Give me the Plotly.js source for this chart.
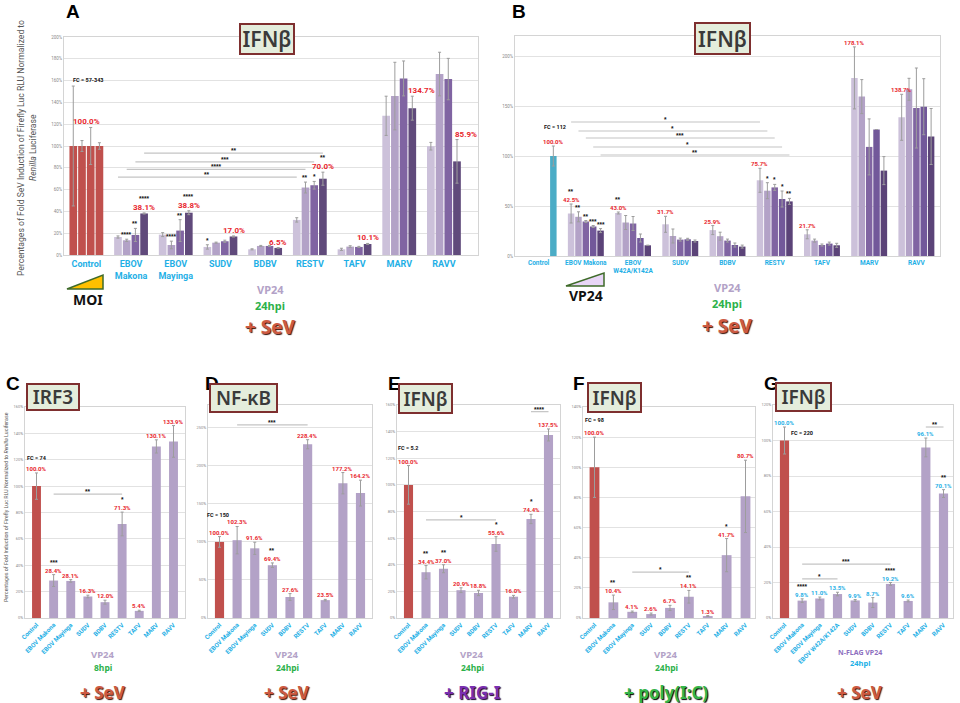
<!DOCTYPE html>
<html><head><meta charset="utf-8">
<script src="https://cdn.plot.ly/plotly-3.0.1.min.js"></script>
<style>html,body{margin:0;padding:0;background:#fff}#chart{width:960px;height:703px}</style>
</head><body><div id="chart"></div>
<script>
// ================= DATA =================
// Panel A (IFNb, MOI series, 4 doses)
const catsA = ['Control','EBOV<br>Makona','EBOV<br>Mayinga','SUDV','BDBV','RESTV','TAFV','MARV','RAVV'];
const a1 = [100,16.5,18.7,7.4,5.2,32.2,5.2,127.7,99.8];
const a2 = [100,13.5,9.2,11.3,8.3,61.9,7.7,145.8,166.0];
const a3 = [100,18.4,22.4,12.6,8.3,64.0,7.4,162.0,161.4];
const a4 = [100,38.1,38.8,17.0,6.5,70.0,10.1,134.7,85.9];
const a1err = [55,1,1.8,2,0.5,2,1,18,3.5];
const a2err = [5,1,3.5,0.5,0.5,5,0.8,31,20];
const a3err = [17,6,10,1,0.5,3.5,0.5,16,19];
const a4err = [3,0.5,1.8,0.5,0.3,6,0.5,11,20];
const starsA = [
  ['','','','*','','','','',''],
  ['','****','****','','','**','','',''],
  ['','**','**','','','*','','',''],
  ['','****','****','','','**','','','']
];
const sigA = [[1,5,3,93.5,'**'],[1,5,2,85.5,'***'],[1,5,1,78.6,'****'],[1,5,0,71.4,'**']];

// Panel B (IFNb, VP24 dose series, 5 doses)
const catsB = ['Control','EBOV Makona','EBOV<br>W42A/K142A','SUDV','BDBV','RESTV','TAFV','MARV','RAVV'];
const b1 = [null,42.5,43.0,31.7,25.9,75.7,21.7,178.1,138.7];
const b2 = [null,39.2,33.5,20.0,19.8,65.3,15.4,159.4,166.7];
const b3 = [null,34.5,32.5,16.4,15.4,68.6,11.0,109.1,148.0];
const b4 = [null,29.5,18.0,16.7,11.0,57.0,12.4,126.5,149.3];
const b5 = [100,25.4,10.7,15.0,9.4,54.6,10.7,85.4,119.5];
const b1err = [0,9.5,1,8,4.5,12,4.5,31,23];
const b2err = [0,5,7,7,4,8,1.5,17,11];
const b3err = [0,1,7,1.5,1.5,3,1,28,40];
const b4err = [0,1,4,1,2,8,1.5,0,28];
const b5err = [10,2,0,1,1.5,3,2,14,28];
const starsB = [
  ['','**','**','','','','','',''],
  ['','**','','','','*','','',''],
  ['','**','','','','*','','',''],
  ['','***','','','','*','','',''],
  ['','***','','','','**','','','']
];
const sigB = [[1,5,0,134,'*'],[1,5,1,125,'*'],[1,5,2,118,'***'],[1,5,3,109,'*'],[1,5,4,101,'**']];

// Panels C-F
const catsCF = ['Control','EBOV Makona','EBOV Mayinga','SUDV','BDBV','RESTV','TAFV','MARV','RAVV'];
const cVals = [100,28.4,28.1,16.3,12.0,71.3,5.4,130.1,133.9];
const cErr  = [10,4.5,1,1,1.5,9,0.5,5,12];
const starsC = ['','***','','','','*','','',''];
const sigC = [[1,5,94,'**']];

const dVals = [100,102.3,91.6,69.4,27.6,228.4,23.5,177.2,164.2];
const dErr  = [7,18,8,3,4.5,6,1,14,17];
const starsD = ['','','','**','','','','',''];
const sigD = [[1,5,254,'***']];

const eVals = [100,34.4,37.0,20.9,18.8,55.6,16.0,74.4,137.5];
const eErr  = [14.5,5,3,1.8,2,5.5,1,3.5,4.5];
const starsE = ['','**','**','','','*','','*',''];
const sigE = [[1,5,73.7,'*'],[7,8,155,'****']];

const fVals = [100,10.4,4.1,2.6,6.7,14.1,1.3,41.7,80.7];
const fErr  = [20,4.8,0.5,0.7,1.7,4.2,0.3,11,24];
const starsF = ['','**','','','','**','','*',''];
const sigF = [[2,5,30.4,'*']];

// Panel G
const catsG = ['Control','EBOV Makona','EBOV Mayinga','EBOV W42A/K142A','SUDV','BDBV','RESTV','TAFV','MARV','RAVV'];
const gVals = [100,9.8,11.0,13.5,9.9,8.7,19.2,9.6,96.1,70.1];
const gErr  = [7.6,1,0.8,1,0.5,2.8,0.8,0.5,5.3,2.2];
const starsG = ['','****','','','','','****','','','**'];
const sigG = [[1,6,30.4,'***'],[1,3,22,'*'],[8,9,107.6,'**']];

// ================= STYLE =================
const W=960,H=703,BARGAP=0.22;
const RED='#C0504D', LAV='#B3A2C7', TEAL='#4BACC6', CYAN='#1FB0E6', PCT='#E8262D';
const doseA=['#CCC1DA','#B3A2C7','#8064A2','#604A7B'];
const doseB=['#CCC1DA','#B3A2C7','#8064A2','#72589A','#5B4378'];
const ERR={color:'#9d9d9d',thickness:1,width:1.5};
const STARSIZE=6.5;
const px=x=>x/W, py=y=>1-y/H;

const traces=[];
const annotations=[];
const shapes=[];

function grpOff(k,n){const slot=(1-BARGAP)/n;return -(1-BARGAP)/2+slot*(k+0.5);}
function pctLabel(ax,x,y,v,size,color,xshift){
  annotations.push({xref:ax[0],yref:ax[1],x,y,text:v.toFixed(1)+'%',showarrow:false,yanchor:'bottom',yshift:0,
    xshift:xshift||0,borderpad:0,font:{family:'Roboto',size,color:color||PCT,weight:'bold'}});
}
function star(ax,x,y,s,shift){
  if(!s) return;
  annotations.push({xref:ax[0],yref:ax[1],x,y,text:s,showarrow:false,yanchor:'bottom',yshift:shift,borderpad:0,
    font:{family:'Liberation Sans',size:STARSIZE,color:'#111',weight:'bold'}});
}
function bracket(ax,x0,x1,y,s){
  shapes.push({type:'line',xref:ax[0],yref:ax[1],x0,x1,y0:y,y1:y,line:{color:'#c4c4c4',width:1.2}});
  star(ax,(x0+x1)/2,y,s,-2);
}

// Panel A
const aVals=[a1,a2,a3,a4], aErrs=[a1err,a2err,a3err,a4err];
aVals.forEach((v,k)=>traces.push({type:'bar',x:catsA,y:v,xaxis:'x',yaxis:'y',
  marker:{color:catsA.map((c,i)=>i===0?RED:doseA[k])},
  error_y:Object.assign({type:'data',array:aErrs[k]},ERR),hoverinfo:'skip'}));
const axA=['x','y'];
for(let i=1;i<catsA.length;i++) pctLabel(axA,i+grpOff(3,4),a4[i]+a4err[i],a4[i],8,PCT,i>=7?9:0);
annotations.push({xref:'x',yref:'y',x:0,y:a1[0],yshift:24,text:a1[0].toFixed(1)+'%',showarrow:false,
  font:{family:'Roboto',size:8,color:PCT,weight:'bold'}});
starsA.forEach((row,k)=>row.forEach((s,i)=>star(axA,i+grpOff(k,4),aVals[k][i]+aErrs[k][i],s,(k===3)?10:0)));
sigA.forEach(([f,t,k,y,s])=>bracket(axA,f+grpOff(k,4),t+grpOff(k,4),y,s));

// Panel B
const bVals=[b1,b2,b3,b4,b5], bErrs=[b1err,b2err,b3err,b4err,b5err];
bVals.forEach((v,k)=>traces.push({type:'bar',x:catsB,y:v,xaxis:'x2',yaxis:'y2',
  marker:{color:catsB.map((c,i)=>i===0?TEAL:doseB[k])},
  error_y:Object.assign({type:'data',array:bErrs[k]},ERR),hoverinfo:'skip'}));
const axB=['x2','y2'];
for(let i=1;i<catsB.length;i++) pctLabel(axB,i+grpOff(0,5),b1[i]+b1err[i],b1[i],6);
pctLabel(axB,0+grpOff(4,5),b5[0]+b5err[0],b5[0],6);
starsB.forEach((row,k)=>row.forEach((s,i)=>star(axB,i+grpOff(k,5),bVals[k][i]+bErrs[k][i],s,(k===0)?8:0)));
sigB.forEach(([f,t,k,y,s])=>bracket(axB,f+grpOff(k,5),t+grpOff(k,5),y,s));

// Single-series panels
function single(n,cats,vals,errs,stars,sigs,lblColor){
  const ax=['x'+n,'y'+n];
  traces.push({type:'bar',x:cats,y:vals,xaxis:ax[0],yaxis:ax[1],width:0.52,
    marker:{color:cats.map((c,i)=>i===0?RED:LAV)},
    error_y:Object.assign({type:'data',array:errs},ERR),hoverinfo:'skip'});
  vals.forEach((v,i)=>{pctLabel(ax,i,v+errs[i],v,6,lblColor);star(ax,i,v+errs[i],stars[i],8);});
  sigs.forEach(([f,t,y,s])=>bracket(ax,f,t,y,s));
}
single(3,catsCF,cVals,cErr,starsC,sigC);
single(4,catsCF,dVals,dErr,starsD,sigD);
single(5,catsCF,eVals,eErr,starsE,sigE);
single(6,catsCF,fVals,fErr,starsF,sigF);
single(7,catsG,gVals,gErr,starsG,sigG,CYAN);

// ================= AXES =================
function yax(top,bot,x0,range,dtick,anchor,fs){
  return {domain:[py(bot),py(top)],range,dtick,anchor,ticksuffix:'%',tickfont:{size:fs,color:'#8a8a8a',family:'Roboto'},
    showgrid:true,gridcolor:'#e2e2e2',gridwidth:1,zeroline:false,showline:true,linecolor:'#d4d4d4',mirror:true,ticks:'',
    ticklen:0,fixedrange:true};
}
function xax(x0,x1,anchor,angle,fs){
  return {domain:[px(x0),px(x1)],anchor,type:'category',tickangle:angle,
    tickfont:{family:'Roboto',size:fs,color:CYAN,weight:'bold'},showline:true,linecolor:'#d4d4d4',mirror:true,
    ticks:'',showgrid:false,fixedrange:true};
}
const layout={
  width:W,height:H,margin:{l:0,r:0,t:0,b:0},paper_bgcolor:'#fff',plot_bgcolor:'#fff',showlegend:false,
  barmode:'group',bargap:BARGAP,bargroupgap:0.12,
  xaxis: xax(64,478,'y',0,9),   yaxis: yax(37,255,64,[0,200],20,'x',4.5),
  xaxis2:xax(515,940,'y2',0,6.5), yaxis2:yax(36,256,515,[0,220],50,'x2',4.5),
  xaxis3:xax(25,185,'y3',-45,6.2), yaxis3:yax(407,618,25,[0,160],20,'x3',4),
  xaxis4:xax(208,372,'y4',-45,6.2), yaxis4:yax(405,618,208,[0,280],50,'x4',4),
  xaxis5:xax(397,560,'y5',-45,6.2), yaxis5:yax(405,618,397,[0,160],20,'x5',4),
  xaxis6:xax(583,755,'y6',-45,6.2), yaxis6:yax(407,618,583,[0,140],20,'x6',4),
  xaxis7:xax(773,953,'y7',-45,6.2), yaxis7:yax(405,618,773,[0,120],20,'x7',4),
  annotations, shapes
};

// ================= PAPER TEXT =================
function ptext(x,y,text,font,extra){
  annotations.push(Object.assign({xref:'paper',yref:'paper',x:px(x),y:py(y),text,showarrow:false,borderpad:0,
    xanchor:'center',yanchor:'middle',font:Object.assign({family:'Noto Sans',weight:'bold'},font)},extra||{}));
}
// panel letters
[['A',73,12],['B',519,12],['C',13,383],['D',212,383],['E',394,383],['F',579,383],['G',771,383]]
  .forEach(([t,x,y])=>ptext(x,y,t,{family:'Liberation Sans',size:19,color:'#000'}));
// title boxes
[['IFNβ',267,39,56,32,21],['IFNβ',722,38,57,33,21],['IRF3',53,397,54,28,19],['NF-κB',243,398,69,30,19],
 ['IFNβ',425,398,55,31,19],['IFNβ',614,397,55,31,19],['IFNβ',803,397,57,30,19]]
  .forEach(([t,x,y,w,h,fs])=>ptext(x,y,t,{family:'Noto Sans',size:fs,color:'#3a3a3a',weight:600},
    {bgcolor:'#E4EDDC',bordercolor:'#7E2F2F',borderwidth:2,width:w-4,height:h-4,borderpad:0}));
// y titles
ptext(21,148,'Percentages of Fold SeV Induction of Firefly Luc RLU Normalized to',{family:'Roboto',size:8.6,color:'#555',weight:'normal'},{textangle:-90});
ptext(33,148,'<i>Renilla</i> Luciferase',{family:'Roboto',size:8.6,color:'#555',weight:'normal'},{textangle:-90});
ptext(6,507,'Percentages of Fold Induction of Firefly Luc RLU Normalized to <i>Renilla</i> Luciferase',{family:'Roboto',size:5.3,color:'#555',weight:'normal'},{textangle:-90});
// FC labels
[['FC = 57-343',88,80],['FC = 112',555,127],['FC = 74',37,458],['FC = 150',218,515],['FC = 5.2',408,448],['FC = 98',594,420],['FC = 220',802,433]]
  .forEach(([t,x,y])=>ptext(x,y,t,{family:'Roboto',size:5.5,color:'#111'}));
// under-axis captions
const SEV={size:17,color:'#CD5A42',shadow:'1px 1px 1px #3a1208'};
ptext(270,289,'VP24',{size:11,color:LAV});
ptext(270,305,'24hpi',{size:11,color:'#2DB14A'});
ptext(270,327,'+ SeV',Object.assign({},SEV,{size:19}));
ptext(727,287,'VP24',{size:11,color:LAV});
ptext(727,303,'24hpi',{size:11,color:'#2DB14A'});
ptext(727,326,'+ SeV',Object.assign({},SEV,{size:19}));
ptext(88,299,'MOI',{size:14,color:'#111'});
ptext(586,295,'VP24',{size:14,color:'#111'});
[[103,'8hpi','+ SeV',SEV],[287,'24hpi','+ SeV',SEV],
 [472,'24hpi','+ RIG-I',{size:17,color:'#7A2FB0',shadow:'1px 1px 1px #1a0630'}],
 [666,'24hpi','+ poly(I:C)',{size:17,color:'#35B54A',shadow:'1px 1px 1px #000'}]]
 .forEach(([x,h,t,f])=>{ptext(x,654,'VP24',{size:9.5,color:LAV});ptext(x,667,h,{size:8.5,color:'#2DB14A'});ptext(x,692,t,f);});
ptext(860,652,'N-FLAG VP24',{size:7,color:'#8E6FC0'});
ptext(860,663,'24hpi',{size:7.5,color:CYAN});
ptext(860,692,'+ SeV',SEV);
// triangles
shapes.push({type:'path',xref:'paper',yref:'paper',
  path:`M ${px(67)} ${py(289)} L ${px(103)} ${py(289)} L ${px(103)} ${py(275)} Z`,
  fillcolor:'#FFC000',line:{color:'#3F6B2A',width:1.5}});
shapes.push({type:'path',xref:'paper',yref:'paper',
  path:`M ${px(566)} ${py(286)} L ${px(604)} ${py(286)} L ${px(604)} ${py(273)} Z`,
  fillcolor:'#E8D6F6',line:{color:'#3F6B2A',width:1.5}});

Plotly.newPlot('chart',traces,layout,{staticPlot:true,displayModeBar:false});
</script></body></html>
